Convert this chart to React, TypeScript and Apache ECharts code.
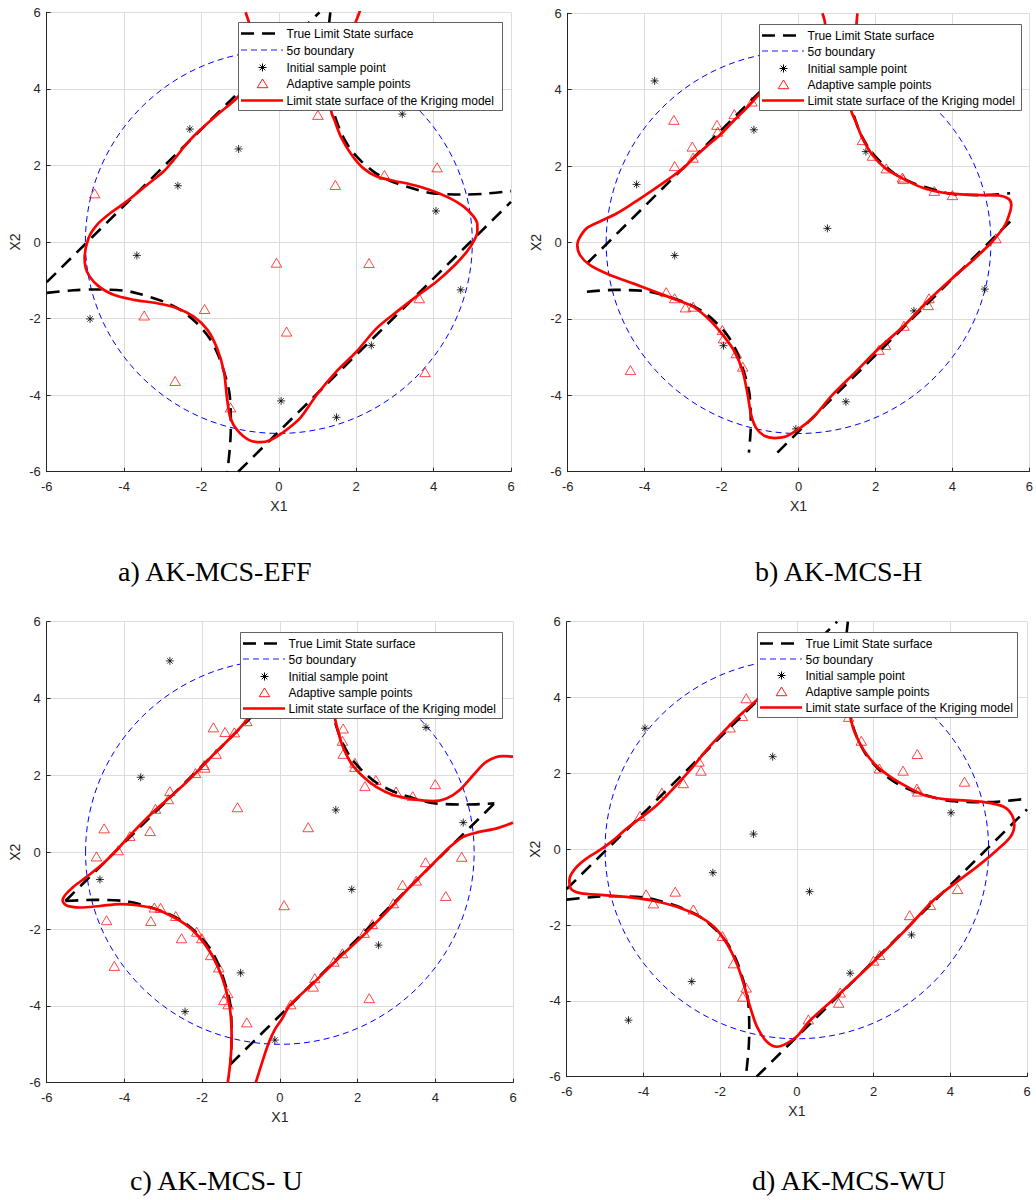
import { useEffect, useRef } from "react";
import * as echarts from "echarts";

type Pt = [number, number];

const FONT_SANS = '"Liberation Sans", Arial, Helvetica, sans-serif';
const FONT_SERIF = '"Liberation Serif", "Times New Roman", serif';
const AXIS_COLOR = "#262626";
const GRID_COLOR = "#dcdcdc";

// Shared axis range for every panel
const AXIS_MIN = -6;
const AXIS_MAX = 6;
const AXIS_STEP = 2;

// 5σ boundary: centre (x1, x2) and radius
const sigmaBoundary: [number, number, number][] = [[0, 0, 5]];

// ---- True limit state surface (k = 7), traced over [-6, 6] ----
const lsfUpperLine7: Pt[] = [[-6, -1.05], [1.05, 6]];
const lsfLowerLine7: Pt[] = [[-1.05, -6], [6, 1.05]];
const lsfUpperCurve7: Pt[] = [
  [1.33, 6], [1.26, 5.3], [1.24, 4.77], [1.27, 4.0], [1.35, 3.62], [1.56, 2.97], [1.8, 2.5],
  [2.12, 2.12], [2.5, 1.8], [2.97, 1.56], [3.62, 1.35], [4.0, 1.27], [4.77, 1.24], [5.3, 1.26], [6, 1.33],
];
const lsfLowerCurve7: Pt[] = [
  [-6, -1.33], [-5.3, -1.26], [-4.77, -1.24], [-4.0, -1.27], [-3.62, -1.35], [-2.97, -1.56], [-2.5, -1.8],
  [-2.12, -2.12], [-1.8, -2.5], [-1.56, -2.97], [-1.35, -3.62], [-1.27, -4.0], [-1.24, -4.77], [-1.26, -5.3], [-1.33, -6],
];

// ---- True limit state surface (k = 7), traced over [-5.5, 5.5] ----
const lsfUpperLine7s: Pt[] = [[-5.5, -0.55], [0.55, 5.5]];
const lsfLowerLine7s: Pt[] = [[-0.55, -5.5], [5.5, 0.55]];
const lsfUpperCurve7s: Pt[] = [
  [1.29, 5.5], [1.24, 4.77], [1.27, 4.0], [1.35, 3.62], [1.56, 2.97], [1.8, 2.5], [2.12, 2.12],
  [2.5, 1.8], [2.97, 1.56], [3.62, 1.35], [4.0, 1.27], [4.77, 1.24], [5.5, 1.29],
];
const lsfLowerCurve7s: Pt[] = [
  [-5.5, -1.29], [-4.77, -1.24], [-4.0, -1.27], [-3.62, -1.35], [-2.97, -1.56], [-2.5, -1.8], [-2.12, -2.12],
  [-1.8, -2.5], [-1.56, -2.97], [-1.35, -3.62], [-1.27, -4.0], [-1.24, -4.77], [-1.29, -5.5],
];

// ---- True limit state surface (k = 6) ----
const lsfUpperLine6: Pt[] = [[-5.52, -1.27], [1.27, 5.52]];
const lsfLowerLine6: Pt[] = [[-1.27, -5.52], [5.52, 1.27]];
const lsfUpperCurve6: Pt[] = [
  [1.27, 5.52], [1.24, 4.77], [1.27, 4.0], [1.35, 3.62], [1.56, 2.97], [1.8, 2.5], [2.12, 2.12],
  [2.5, 1.8], [2.97, 1.56], [3.62, 1.35], [4.0, 1.27], [4.77, 1.24], [5.52, 1.27],
];
const lsfLowerCurve6: Pt[] = [
  [-5.52, -1.27], [-4.77, -1.24], [-4.0, -1.27], [-3.62, -1.35], [-2.97, -1.56], [-2.5, -1.8], [-2.12, -2.12],
  [-1.8, -2.5], [-1.56, -2.97], [-1.35, -3.62], [-1.27, -4.0], [-1.24, -4.77], [-1.27, -5.52],
];

// ---- a) AK-MCS-EFF ----
const initialA: Pt[] = [
  [-2.30, 2.95], [-1.04, 2.43], [-2.61, 1.47], [-3.67, -0.35], [-4.88, -2.01], [0.06, -4.15],
  [3.19, 3.34], [4.06, 0.81], [4.70, -1.25], [2.39, -2.70], [1.49, -4.58],
];
const adaptiveA: Pt[] = [
  [-4.76, 1.27], [-3.48, -1.92], [-1.92, -1.75], [-2.68, -3.63], [-1.25, -4.32], [-0.06, -0.54],
  [1.01, 3.32], [4.09, 1.95], [2.73, 1.75], [1.46, 1.49], [2.33, -0.55], [0.20, -2.34], [3.63, -1.47], [3.78, -3.40],
];
const krigingA: Pt[] = [
  [-0.86, 6.0], [-0.74, 5.6], [-0.66, 4.9], [-0.8, 4.25], [-1.03, 3.82], [-1.60, 3.32], [-2.03, 2.93],
  [-2.37, 2.58], [-2.72, 2.14], [-2.98, 1.84], [-3.41, 1.49], [-3.93, 1.06], [-4.36, 0.75], [-4.70, 0.45],
  [-4.92, 0.10], [-5.02, -0.42], [-4.96, -0.77], [-4.70, -1.12], [-4.27, -1.38], [-3.75, -1.51], [-3.15, -1.60],
  [-2.63, -1.73], [-2.20, -1.95], [-1.85, -2.29], [-1.60, -2.77], [-1.42, -3.38], [-1.34, -4.08], [-1.25, -4.60],
  [-1.08, -4.91], [-0.78, -5.17], [-0.47, -5.23], [-0.21, -5.17], [0.10, -4.98], [0.55, -4.60], [0.98, -3.99],
  [1.49, -3.38], [2.01, -2.86], [2.53, -2.25], [3.05, -1.82], [3.56, -1.42], [4.08, -1.03], [4.55, -0.60],
  [4.86, -0.25], [5.03, 0.01], [5.13, 0.27], [5.13, 0.45], [5.03, 0.67], [4.77, 0.93], [4.43, 1.14],
  [3.91, 1.36], [3.39, 1.51], [2.96, 1.60], [2.53, 1.71], [2.18, 1.93], [1.88, 2.28], [1.62, 2.71],
  [1.45, 3.15], [1.35, 3.45], [1.40, 4.2], [1.62, 5.0], [1.99, 5.76], [2.10, 6.05],
];

// ---- b) AK-MCS-H ----
const initialB: Pt[] = [
  [-3.74, 4.23], [-4.21, 1.52], [-1.16, 2.95], [-3.22, -0.34], [-1.95, -2.70], [-0.07, -4.88],
  [1.75, 2.38], [0.75, 0.37], [4.84, -1.22], [3.0, -1.79], [1.23, -4.17],
];
const adaptiveB: Pt[] = [
  [-3.24, 3.21], [-3.22, 2.0], [-2.76, 2.51], [-2.74, 2.22], [-2.12, 3.08], [-2.10, 2.90], [-1.67, 3.36],
  [-1.21, 3.69], [-3.44, -1.30], [-3.22, -1.46], [-2.94, -1.70], [-2.74, -1.68], [-1.98, -2.29], [-1.95, -2.51],
  [-1.62, -2.90], [-1.45, -3.25], [-4.37, -3.34], [1.66, 2.68], [1.92, 2.27], [2.28, 1.94], [2.70, 1.70],
  [2.72, 1.66], [3.53, 1.35], [4.0, 1.24], [5.13, 0.11], [3.39, -1.46], [3.37, -1.64], [2.74, -2.18],
  [2.26, -2.68], [2.09, -2.81],
];
const krigingB: Pt[] = [
  [0.62, 6.0], [0.69, 5.72], [0.5, 5.3], [0.0, 4.8], [-0.55, 4.35], [-1.02, 3.88], [-1.36, 3.51], [-1.71, 3.16],
  [-2.05, 2.81], [-2.40, 2.51], [-2.74, 2.20], [-3.0, 1.94], [-3.35, 1.68], [-3.78, 1.38], [-4.30, 1.03],
  [-4.73, 0.76], [-5.16, 0.55], [-5.51, 0.37], [-5.70, 0.11], [-5.75, -0.06], [-5.68, -0.33], [-5.42, -0.59],
  [-4.90, -0.85], [-4.30, -1.07], [-3.78, -1.27], [-3.18, -1.50], [-2.74, -1.68], [-2.31, -2.03], [-1.97, -2.42],
  [-1.66, -2.86], [-1.45, -3.38], [-1.32, -4.0], [-1.23, -4.52], [-1.10, -4.86], [-0.89, -5.06], [-0.63, -5.12],
  [-0.33, -5.08], [-0.05, -4.92], [0.36, -4.60], [0.88, -3.99], [1.49, -3.38], [2.09, -2.77], [2.74, -2.18],
  [3.39, -1.50], [3.99, -0.94], [4.59, -0.41], [5.03, 0.02], [5.37, 0.46], [5.50, 0.81], [5.53, 0.98],
  [5.46, 1.14], [5.20, 1.23], [4.77, 1.24], [4.25, 1.26], [3.73, 1.31], [3.21, 1.44], [2.70, 1.68],
  [2.26, 1.94], [1.92, 2.29], [1.66, 2.73], [1.49, 3.16], [1.36, 3.51], [1.38, 4.3], [1.45, 5.1], [1.53, 6.0],
];

// ---- c) AK-MCS-U ----
const initialC: Pt[] = [
  [-2.83, 4.98], [-3.58, 1.95], [-4.63, -0.71], [-1.01, -3.14], [-2.44, -4.15], [-0.13, -4.89],
  [3.76, 3.25], [1.44, 1.10], [4.72, 0.77], [1.85, -0.97], [2.54, -2.42],
];
const adaptiveC: Pt[] = [
  [-4.52, 0.62], [-4.72, -0.11], [-4.16, 0.05], [-3.86, 0.42], [-3.34, 0.55], [-3.20, 1.13], [-2.83, 1.59],
  [-2.87, 1.38], [-2.17, 2.06], [-1.95, 2.27], [-1.93, 2.20], [-1.64, 2.56], [-1.71, 3.25], [-1.41, 3.13],
  [-1.17, 3.12], [-0.85, 3.41], [-1.09, 1.17], [-4.46, -1.77], [-4.26, -2.96], [-3.32, -1.79], [-3.23, -1.44],
  [-3.07, -1.45], [-2.68, -1.66], [-2.53, -2.24], [-2.14, -2.07], [-2.01, -2.24], [-1.78, -2.68], [-1.57, -3.0],
  [-1.34, -3.67], [-1.44, -3.85], [-1.33, -3.96], [-0.85, -4.43], [1.63, 3.22], [1.61, 2.90], [1.63, 2.56],
  [1.93, 2.33], [1.93, 2.22], [2.19, 1.72], [2.47, 1.88], [2.99, 1.58], [3.42, 1.46], [4.0, 1.77], [0.73, 0.65],
  [4.68, -0.12], [3.75, -0.26], [4.27, -1.14], [3.16, -0.85], [3.51, -0.74], [2.92, -1.33], [2.38, -1.87],
  [2.17, -2.10], [1.61, -2.63], [1.39, -2.85], [0.90, -3.28], [0.86, -3.50], [0.28, -3.96], [0.11, -1.38],
  [2.30, -3.80],
];
const krigingC1: Pt[] = [
  [6.0, 2.49], [5.75, 2.50], [5.32, 2.36], [4.98, 2.01], [4.63, 1.62], [4.29, 1.40], [3.94, 1.33], [3.42, 1.38],
  [2.91, 1.49], [2.48, 1.70], [2.14, 1.97], [1.84, 2.31], [1.62, 2.75], [1.49, 3.18], [1.41, 3.54], [1.35, 4.2],
  [1.05, 4.85], [0.4, 4.9], [-0.3, 4.15], [-0.85, 3.44], [-1.20, 3.05], [-1.63, 2.62], [-2.05, 2.18],
  [-2.48, 1.75], [-2.91, 1.36], [-3.34, 0.97], [-3.77, 0.53], [-4.16, 0.10], [-4.54, -0.29], [-4.97, -0.64],
  [-5.31, -0.90], [-5.53, -1.12], [-5.59, -1.26], [-5.49, -1.39], [-5.14, -1.44], [-4.63, -1.40], [-4.11, -1.35],
  [-3.68, -1.38], [-3.26, -1.46], [-2.83, -1.64], [-2.40, -1.90], [-2.05, -2.24], [-1.80, -2.59], [-1.58, -3.02],
  [-1.41, -3.50], [-1.28, -4.11], [-1.24, -4.80], [-1.27, -5.41], [-1.34, -6.0],
];
const krigingC2: Pt[] = [
  [-0.62, -6.0], [-0.45, -5.45], [-0.28, -4.95], [-0.12, -4.6], [0.05, -4.35], [0.26, -3.98], [0.86, -3.41],
  [1.46, -2.81], [2.15, -2.16], [2.75, -1.55], [3.35, -0.90], [3.95, -0.29], [4.38, 0.14], [4.72, 0.40],
  [5.06, 0.51], [5.58, 0.62], [6.0, 0.77],
];

// ---- d) AK-MCS-WU ----
const initialD: Pt[] = [
  [-3.96, 3.19], [-0.63, 2.44], [-1.13, 0.40], [-2.19, -0.62], [-2.74, -3.49], [-4.39, -4.51],
  [4.02, 0.96], [0.33, -1.12], [2.99, -2.26], [1.39, -3.27],
];
const adaptiveD: Pt[] = [
  [-1.32, 3.98], [-1.42, 3.51], [-1.74, 3.21], [-2.55, 2.31], [-2.50, 2.07], [-2.96, 1.74], [-3.52, 1.49],
  [-4.09, 0.88], [-3.93, -1.19], [-3.74, -1.43], [-3.17, -1.12], [-2.70, -1.59], [-1.94, -2.29], [-1.65, -3.01],
  [-1.32, -3.65], [-1.41, -3.89], [1.35, 3.49], [1.68, 2.86], [2.15, 2.13], [2.77, 2.07], [3.14, 2.51],
  [3.13, 1.60], [3.15, 1.52], [4.37, 1.78], [4.19, -1.05], [3.48, -1.47], [2.94, -1.74], [2.16, -2.79],
  [2.0, -2.94], [1.13, -3.78], [1.09, -4.05], [0.30, -4.49],
];
const krigingD: Pt[] = [
  [0.3, 4.9], [-0.5, 4.45], [-1.09, 3.89], [-1.48, 3.54], [-1.91, 3.10], [-2.35, 2.62], [-2.78, 2.09],
  [-3.22, 1.60], [-3.65, 1.16], [-4.09, 0.81], [-4.43, 0.55], [-4.78, 0.24], [-5.13, -0.02], [-5.48, -0.24],
  [-5.78, -0.51], [-5.93, -0.81], [-5.90, -1.03], [-5.65, -1.16], [-5.04, -1.21], [-4.35, -1.27], [-3.74, -1.36],
  [-3.13, -1.52], [-2.61, -1.74], [-2.17, -2.04], [-1.83, -2.48], [-1.57, -3.01], [-1.39, -3.54], [-1.22, -4.15],
  [-1.04, -4.68], [-0.78, -5.08], [-0.52, -5.21], [-0.26, -5.12], [0.0, -4.94], [0.35, -4.51], [1.13, -3.80],
  [2.0, -2.97], [2.87, -2.09], [3.57, -1.34], [4.17, -0.86], [4.70, -0.46], [5.22, -0.02], [5.57, 0.33],
  [5.67, 0.64], [5.61, 0.90], [5.39, 1.12], [4.96, 1.23], [4.44, 1.28], [3.83, 1.32], [3.31, 1.43], [2.87, 1.65],
  [2.44, 1.91], [2.05, 2.22], [1.74, 2.62], [1.52, 3.05], [1.39, 3.49], [1.3, 4.0], [1.0, 4.6], [0.3, 4.9],
];

const legendLabels = [
  "True Limit State surface",
  "5σ boundary",
  "Initial sample point",
  "Adaptive sample points",
  "Limit state surface of the Kriging model",
];

interface Panel {
  caption: string;
  grid: { left: number; top: number; width: number; height: number };
  legendAt: [number, number, number, number];
  captionAt: [number, number];
  truth: Pt[][];
  initial: Pt[];
  adaptive: Pt[];
  kriging: Pt[][];
}

const panels: Panel[] = [
  {
    caption: "a) AK-MCS-EFF",
    grid: { left: 46.7, top: 12.3, width: 464.3, height: 459.4 },
    legendAt: [238, 22, 264, 88],
    captionAt: [118, 571],
    truth: [lsfUpperLine7, lsfLowerLine7, lsfUpperCurve7, lsfLowerCurve7],
    initial: initialA,
    adaptive: adaptiveA,
    kriging: [krigingA],
  },
  {
    caption: "b) AK-MCS-H",
    grid: { left: 567.7, top: 13.3, width: 463.3, height: 458.4 },
    legendAt: [759, 24, 262, 86],
    captionAt: [755, 571],
    truth: [lsfUpperLine7s, lsfLowerLine7s, lsfUpperCurve7s, lsfLowerCurve7s],
    initial: initialB,
    adaptive: adaptiveB,
    kriging: [krigingB],
  },
  {
    caption: "c) AK-MCS- U",
    grid: { left: 46.7, top: 621.7, width: 466.3, height: 461 },
    legendAt: [240, 632, 262, 86],
    captionAt: [130, 1180],
    truth: [lsfUpperLine6, lsfLowerLine6, lsfUpperCurve6, lsfLowerCurve6],
    initial: initialC,
    adaptive: adaptiveC,
    kriging: [krigingC1, krigingC2],
  },
  {
    caption: "d) AK-MCS-WU",
    grid: { left: 566.7, top: 621.7, width: 460.3, height: 455 },
    legendAt: [757, 632, 260, 85],
    captionAt: [752, 1180],
    truth: [lsfUpperLine7, lsfLowerLine7, lsfUpperCurve7, lsfLowerCurve7],
    initial: initialD,
    adaptive: adaptiveD,
    kriging: [krigingD],
  },
];

const STAR_PATH = "path://M5 0 L5 10 M0 5 L10 5 M1.6 1.6 L8.4 8.4 M1.6 8.4 L8.4 1.6";
const TRUE_DASH = [13, 8];
const SIGMA_DASH = [6, 4];
const LEGEND_Z = 100;

function axisCommon(name: string, gridIndex: number, nameGap: number, labelMargin: number) {
  return {
    gridIndex,
    type: "value" as const,
    min: AXIS_MIN,
    max: AXIS_MAX,
    interval: AXIS_STEP,
    name,
    nameLocation: "middle" as const,
    nameGap,
    nameTextStyle: { fontSize: 14, color: AXIS_COLOR, fontFamily: FONT_SANS },
    axisLine: { show: true, onZero: false, lineStyle: { color: AXIS_COLOR, width: 1 } },
    axisTick: { show: true, inside: true, length: 4, lineStyle: { color: AXIS_COLOR, width: 1 } },
    axisLabel: { fontSize: 13, color: AXIS_COLOR, fontFamily: FONT_SANS, margin: labelMargin },
    splitLine: { show: true, lineStyle: { color: GRID_COLOR, width: 1 } },
  };
}

// Legend box drawn on top of the plot area (white fill hides what lies under it)
function legendElements(x: number, y: number, w: number, h: number) {
  const rows = [11, 27.8, 44.6, 61.2, 77.8].map((r) => Math.round(y + (r * h) / 88) + 0.5);
  const sx = x + 24.5;
  const els: any[] = [];
  els.push({
    type: "rect",
    z: LEGEND_Z,
    shape: { x: x + 0.5, y: y + 0.5, width: w, height: h },
    style: { fill: "#ffffff", stroke: "#3a3a3a", lineWidth: 0.8 },
  });
  els.push({
    type: "line",
    z: LEGEND_Z + 1,
    shape: { x1: x + 3, y1: rows[0], x2: x + 45, y2: rows[0] },
    style: { stroke: "#000000", lineWidth: 2.6, lineDash: TRUE_DASH },
  });
  // thin blue sample sits between pixel rows so it renders as soft blue like the circle
  els.push({
    type: "line",
    z: LEGEND_Z + 1,
    shape: { x1: x + 3, y1: rows[1] - 0.5, x2: x + 45, y2: rows[1] - 0.5 },
    style: { stroke: "#1a1aff", lineWidth: 1.2, lineDash: SIGMA_DASH },
  });
  [
    [0, -4, 0, 4],
    [-4, 0, 4, 0],
    [-2.8, -2.8, 2.8, 2.8],
    [-2.8, 2.8, 2.8, -2.8],
  ].forEach(([x1, y1, x2, y2]) =>
    els.push({
      type: "line",
      z: LEGEND_Z + 1,
      shape: { x1: sx + x1, y1: rows[2] + y1, x2: sx + x2, y2: rows[2] + y2 },
      style: { stroke: "#000000", lineWidth: 1 },
    })
  );
  els.push({
    type: "polygon",
    z: LEGEND_Z + 1,
    shape: { points: [[sx, rows[3] - 4.5], [sx + 5.3, rows[3] + 4.2], [sx - 5.3, rows[3] + 4.2]] },
    style: { fill: "none", stroke: "#ff0000", lineWidth: 0.9 },
  });
  els.push({
    type: "line",
    z: LEGEND_Z + 1,
    shape: { x1: x + 3, y1: rows[4], x2: x + 45, y2: rows[4] },
    style: { stroke: "#ff0000", lineWidth: 2.7 },
  });
  legendLabels.forEach((t, i) =>
    els.push({
      type: "text",
      z: LEGEND_Z + 1,
      x: x + 48.5,
      y: rows[i],
      style: {
        text: t,
        fontSize: 12,
        fontFamily: FONT_SANS,
        fill: "#000000",
        align: "left",
        verticalAlign: "middle",
      },
    })
  );
  return els;
}

function buildOption() {
  const grids: any[] = [];
  const xAxes: any[] = [];
  const yAxes: any[] = [];
  const series: any[] = [];
  const graphics: any[] = [];

  panels.forEach((p, i) => {
    grids.push({ ...p.grid, containLabel: false });
    xAxes.push(axisCommon("X1", i, 27, 8));
    yAxes.push(axisCommon("X2", i, 25, 6));

    p.truth.forEach((pts) =>
      series.push({
        type: "line",
        xAxisIndex: i,
        yAxisIndex: i,
        data: pts,
        smooth: pts.length > 2 ? 0.3 : false,
        showSymbol: false,
        symbol: "none",
        silent: true,
        lineStyle: { color: "#000000", width: 2.6, type: TRUE_DASH },
      })
    );

    series.push({
      type: "custom",
      xAxisIndex: i,
      yAxisIndex: i,
      data: sigmaBoundary,
      silent: true,
      renderItem: (_params: any, api: any) => {
        const cx = api.value(0);
        const cy = api.value(1);
        const r = api.value(2);
        const c = api.coord([cx, cy]);
        const ex = api.coord([cx + r, cy]);
        const ey = api.coord([cx, cy + r]);
        return {
          type: "ellipse",
          shape: { cx: c[0], cy: c[1], rx: Math.abs(ex[0] - c[0]), ry: Math.abs(c[1] - ey[1]) },
          style: { fill: "none", stroke: "#0000ff", lineWidth: 1, lineDash: SIGMA_DASH },
        };
      },
    });

    series.push({
      type: "scatter",
      xAxisIndex: i,
      yAxisIndex: i,
      data: p.initial,
      symbol: STAR_PATH,
      symbolSize: 8,
      silent: true,
      itemStyle: { color: "transparent", borderColor: "#000000", borderWidth: 1 },
    });

    series.push({
      type: "scatter",
      xAxisIndex: i,
      yAxisIndex: i,
      data: p.adaptive,
      symbol: "triangle",
      symbolSize: [10.5, 9],
      silent: true,
      itemStyle: { color: "transparent", borderColor: "#ff0000", borderWidth: 0.9 },
    });

    p.kriging.forEach((pts) =>
      series.push({
        type: "line",
        xAxisIndex: i,
        yAxisIndex: i,
        data: pts,
        smooth: 0.3,
        showSymbol: false,
        symbol: "none",
        silent: true,
        lineStyle: { color: "#ff0000", width: 2.7 },
      })
    );

    const [lx, ly, lw, lh] = p.legendAt;
    graphics.push(...legendElements(lx, ly, lw, lh));
    graphics.push({
      type: "text",
      z: LEGEND_Z,
      x: p.captionAt[0],
      y: p.captionAt[1],
      style: {
        text: p.caption,
        fontSize: 28,
        fontFamily: FONT_SERIF,
        fill: "#000000",
        align: "left",
        verticalAlign: "middle",
      },
    });
  });

  return {
    animation: false,
    backgroundColor: "#ffffff",
    grid: grids,
    xAxis: xAxes,
    yAxis: yAxes,
    series,
    graphic: { elements: graphics },
  };
}

export default function App() {
  const ref = useRef<HTMLDivElement>(null);

  useEffect(() => {
    document.body.style.margin = "0";
    if (!ref.current) return;
    const chart = echarts.init(ref.current, undefined, { renderer: "svg" });
    chart.setOption(buildOption() as any);
    return () => chart.dispose();
  }, []);

  return <div ref={ref} style={{ width: 1036, height: 1200, position: "absolute", left: 0, top: 0 }} />;
}
